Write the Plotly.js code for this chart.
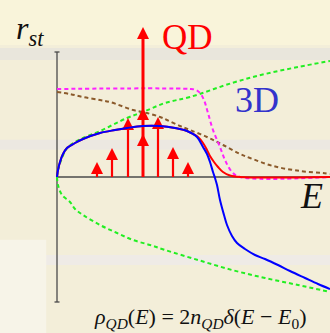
<!DOCTYPE html>
<html><head><meta charset="utf-8">
<script src="https://cdn.plot.ly/plotly-3.0.1.min.js"></script>
<style>html,body{margin:0;padding:0;background:#f3eed9}#c{width:330px;height:333px}</style>
</head><body><div id="c"></div>
<script>
// energy axis (arbitrary units, origin at E = 0, r_st = 0)
const blueX = [0,1,3,6,10,18,26,43,58,70,86,103,118,130,140,146,150,153,156,158,160,163,167,170,175,180,188,198,208,221,233,248,261,273];
const blueY = [0,7,15,23,29,34,38,44,47,49,51,51,49,46,40,30,23,15,5,-1,-8,-23,-38,-48,-59,-66,-72,-78,-82,-88,-94,-101,-107,-112];
const redX = [0,1,3,6,10,18,26,43,58,70,86,103,118,130,136,141,146,150,153,157,161,166,173,183,273];
const redY = [0,7,15,23,29,34,38,44,47,49,51,51,49,46,43,40,34,27,21,15,10,5,1.5,0,0];
const magX = [0,133,139,143,147,151,156,163,168,175,183,273];
const magY = [88,88,87,84,77,64,47,30,17,5,0,0];
const brownX = [0,13,26,43,53,76,90,103,110,123,133,150,166,183,193,216,243,266,273];
const brownY = [85,83,80,77,75,67,64,60,57,51,47,40,32,23,19,11,6,4,3];
const greenUpX = [0,1,5,10,18,26,43,70,86,108,133,175,208,241,273];
const greenUpY = [0,7,19,29,35,39,46,59,65,74,80,94,103,110,116];
const greenLoX = [0,1,5,13,18,26,43,60,76,93,108,141,175,208,241,273];
const greenLoY = [0,-8,-18,-25,-32,-38,-48,-56,-63,-68,-73,-83,-93,-101,-108,-115];
// QD delta peaks
const qdX = [40,55,71,86,101,116,131];
const qdTip = [15,29,59,150,60,30,15];
const extraHeadX = [86,86];
const extraHeadY = [69,43];
const axisTop = 125, axisBottom = -125, axisRight = 273;

const traces = [];
// axes
traces.push({x:[0,0],y:[axisBottom,axisTop],mode:'lines',line:{color:'#4a4a4a',width:1.3},hoverinfo:'skip'});
traces.push({x:[-2.5,2.5,null,-2.5,2.5],y:[axisTop,axisTop,null,axisBottom,axisBottom],mode:'lines',line:{color:'#4a4a4a',width:1.3},hoverinfo:'skip'});
traces.push({x:[0,axisRight],y:[0,0],mode:'lines',line:{color:'#4a4a4a',width:1.3},hoverinfo:'skip'});
// curves
traces.push({x:greenUpX,y:greenUpY,mode:'lines',line:{color:'#22ee22',width:2,dash:'4px,3px',shape:'spline'}});
traces.push({x:greenLoX,y:greenLoY,mode:'lines',line:{color:'#22ee22',width:2,dash:'4px,3px',shape:'spline'}});
traces.push({x:brownX,y:brownY,mode:'lines',line:{color:'#8b5a2b',width:2,dash:'4px,3px',shape:'spline'}});
traces.push({x:magX,y:magY,mode:'lines',line:{color:'#ff22ff',width:2,dash:'4px,3px',shape:'spline'}});
// QD arrows
const sx=[], sy=[];
qdX.forEach((x,i)=>{ if (qdTip[i] < 100) { sx.push(x,x,null); sy.push(0,qdTip[i]-6,null); } });
traces.push({x:sx,y:sy,mode:'lines',line:{color:'#ff0000',width:2.2},hoverinfo:'skip'});
const tallIdx = qdTip.indexOf(Math.max(...qdTip));
traces.push({x:[qdX[tallIdx],qdX[tallIdx]],y:[0,qdTip[tallIdx]-6],mode:'lines',line:{color:'#ff0000',width:3},hoverinfo:'skip'});
traces.push({x:qdX.concat(extraHeadX),y:qdTip.concat(extraHeadY),mode:'markers',marker:{symbol:'arrow-up',size:12,color:'#ff0000',line:{width:0}}});
traces.push({x:redX,y:redY,mode:'lines',line:{color:'#ff0000',width:2,shape:'spline'}});
traces.push({x:blueX,y:blueY,mode:'lines',line:{color:'#0000ff',width:2,shape:'spline'}});

const fontFam = 'Liberation Serif';
const layout = {
  width:330,height:333,margin:{l:0,r:0,t:0,b:0},
  font:{family:fontFam},
  paper_bgcolor:'#f3eed9',plot_bgcolor:'rgba(0,0,0,0)',
  showlegend:false,
  xaxis:{range:[-57,273],visible:false,fixedrange:true},
  yaxis:{range:[-156,177],visible:false,fixedrange:true},
  shapes:[
    {type:'rect',xref:'paper',yref:'paper',x0:0,x1:1,y0:0.865,y1:1,fillcolor:'#f9f4da',line:{width:0},layer:'below'},
    {type:'rect',xref:'paper',yref:'paper',x0:0,x1:1,y0:0.82,y1:0.856,fillcolor:'#e9e6dc',line:{width:0},layer:'below'},
    {type:'rect',xref:'paper',yref:'paper',x0:0,x1:1,y0:0.55,y1:0.58,fillcolor:'#ece8e1',line:{width:0},layer:'below'},
    {type:'rect',xref:'paper',yref:'paper',x0:0,x1:1,y0:0.204,y1:0.234,fillcolor:'#efebe6',line:{width:0},layer:'below'},
    {type:'rect',xref:'paper',yref:'paper',x0:0,x1:0.14,y0:0.0,y1:0.28,fillcolor:'#f7f4e8',line:{width:0},layer:'below'}
  ],
  annotations:[
    {x:-43,y:147,xanchor:'left',yanchor:'middle',showarrow:false,text:'<i>r</i><sub><i>st</i></sub>',font:{family:fontFam,size:32,color:'#111111'}},
    {x:130,y:140,xanchor:'center',yanchor:'middle',showarrow:false,text:'QD',font:{family:fontFam,size:35,color:'#ff0000'}},
    {x:200,y:77,xanchor:'center',yanchor:'middle',showarrow:false,text:'3D',font:{family:fontFam,size:36,color:'#3333cc'}},
    {x:254,y:-19,xanchor:'center',yanchor:'middle',showarrow:false,text:'<i>E</i>',font:{family:fontFam,size:36,color:'#111111'}},
    {x:143,y:-141,xanchor:'center',yanchor:'middle',showarrow:false,text:'<i>ρ</i><sub><i>QD</i></sub>(<i>E</i>) = 2<i>n</i><sub><i>QD</i></sub><i>δ</i>(<i>E</i> − <i>E</i><sub>0</sub>)',font:{family:fontFam,size:22,color:'#111111'}}
  ]
};
Plotly.newPlot('c',traces,layout,{staticPlot:true,displayModeBar:false});
</script></body></html>
